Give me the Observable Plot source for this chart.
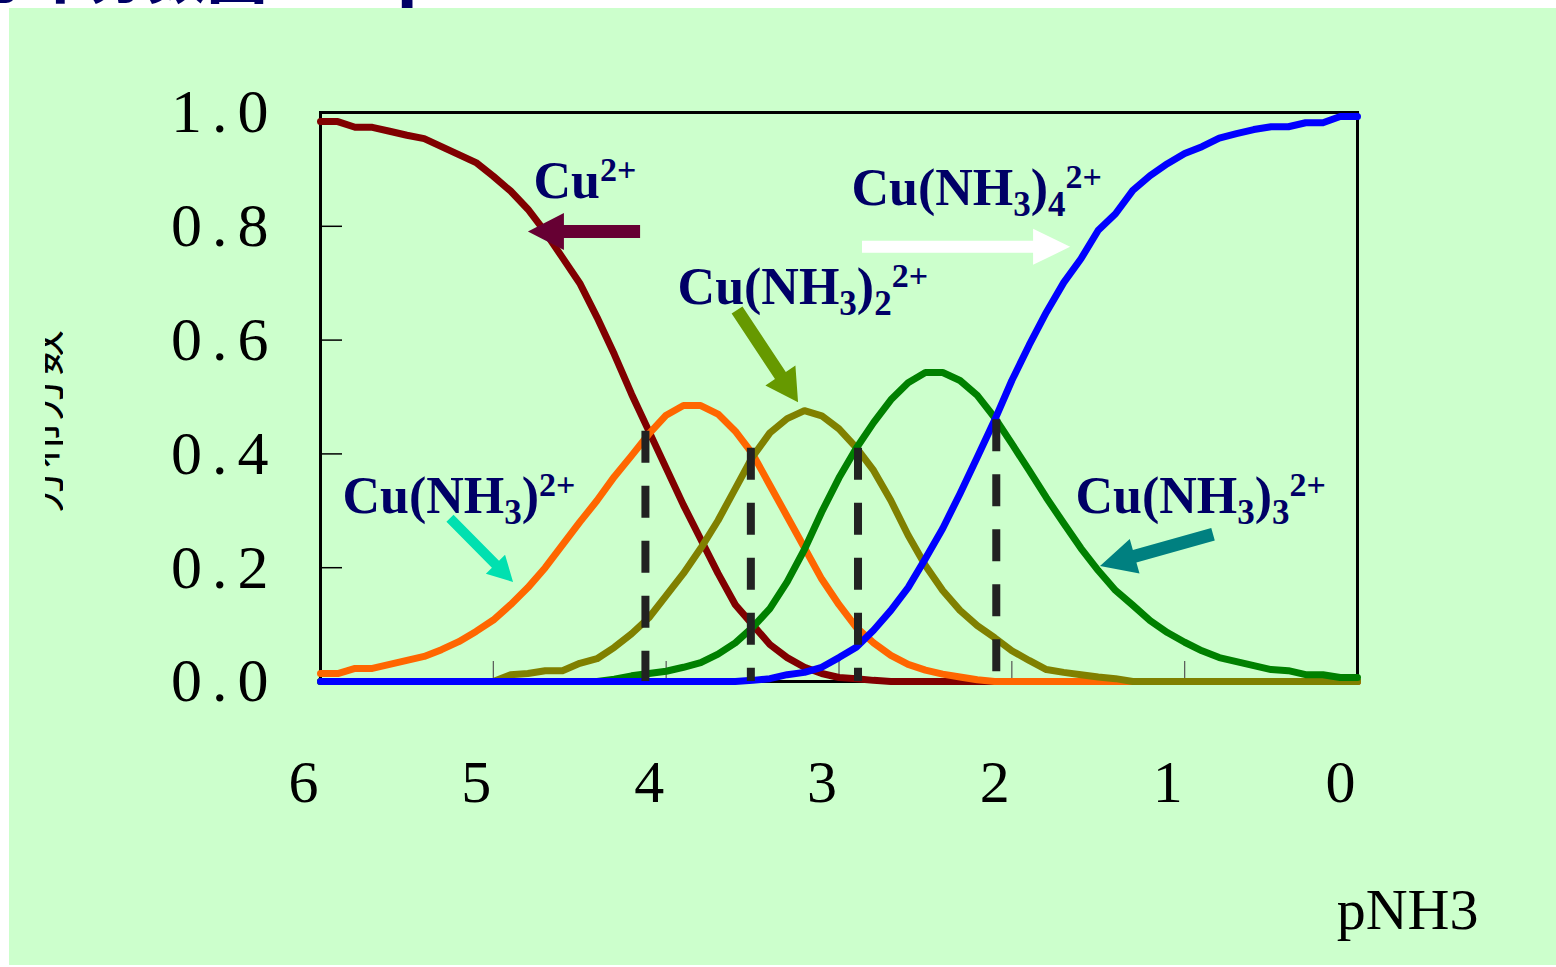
<!DOCTYPE html>
<html>
<head>
<meta charset="utf-8">
<script src="https://cdn.jsdelivr.net/npm/d3@7"></script>
<script src="https://cdn.jsdelivr.net/npm/@observablehq/plot@0.6"></script>
<style>
  html, body { margin: 0; padding: 0; background: #ffffff; }
  #page { position: relative; width: 1556px; height: 967px; overflow: hidden; background: #ffffff; }
  #title { position: absolute; left: -33px; top: -58px; white-space: pre; color: #000066;
           font: 900 60px "Noto Sans CJK SC", sans-serif; line-height: 60px; }
  #panel { position: absolute; left: 9px; top: 8px; width: 1547px; height: 957px; background: #CCFFCC; }
  #panel svg { display: block; }
  #ylabel { position: absolute; left: 45px; top: 320px; width: 18px; height: 210px; overflow: hidden; }
</style>
</head>
<body>
<div id="page">
  <div id="title">分布分数图——  pNH3</div>
  <div id="panel"></div>
  <div id="ylabel"></div>
</div>
<script>
// pNH3 grid (x) and the distribution fraction of each copper–ammine species
const pNH3 = [6.0, 5.9, 5.8, 5.7, 5.6, 5.5, 5.4, 5.3, 5.2, 5.1,
              5.0, 4.9, 4.8, 4.7, 4.6, 4.5, 4.4, 4.3, 4.2, 4.1,
              4.0, 3.9, 3.8, 3.7, 3.6, 3.5, 3.4, 3.3, 3.2, 3.1,
              3.0, 2.9, 2.8, 2.7, 2.6, 2.5, 2.4, 2.3, 2.2, 2.1,
              2.0, 1.9, 1.8, 1.7, 1.6, 1.5, 1.4, 1.3, 1.2, 1.1,
              1.0, 0.9, 0.8, 0.7, 0.6, 0.5, 0.4, 0.3, 0.2, 0.1, 0.0];

const fracCu = [0.984, 0.984, 0.974, 0.974, 0.967, 0.960, 0.954, 0.940, 0.926, 0.912,
                0.888, 0.862, 0.830, 0.790, 0.745, 0.700, 0.640, 0.575, 0.505, 0.440,
                0.375, 0.310, 0.250, 0.190, 0.135, 0.100, 0.065, 0.042, 0.025, 0.014,
                0.007, 0.005, 0.002, 0, 0, 0, 0, 0, 0, 0,
                0, 0, 0, 0, 0, 0, 0, 0, 0, 0,
                0, 0, 0, 0, 0, 0, 0, 0, 0, 0, 0];

const fracCuN1 = [0.014, 0.014, 0.023, 0.023, 0.030, 0.037, 0.044, 0.056, 0.070, 0.088,
                  0.108, 0.135, 0.165, 0.200, 0.240, 0.280, 0.318, 0.360, 0.397, 0.435,
                  0.468, 0.485, 0.485, 0.470, 0.440, 0.400, 0.345, 0.290, 0.235, 0.180,
                  0.135, 0.095, 0.068, 0.046, 0.030, 0.020, 0.013, 0.008, 0.003, 0,
                  0, 0, 0, 0, 0, 0, 0, 0, 0, 0,
                  0, 0, 0, 0, 0, 0, 0, 0, 0, 0, 0];

const fracCuN2 = [0, 0, 0, 0, 0, 0, 0, 0, 0, 0,
                  0, 0.012, 0.014, 0.019, 0.019, 0.032, 0.040, 0.060, 0.084, 0.112,
                  0.151, 0.190, 0.234, 0.283, 0.339, 0.395, 0.437, 0.462, 0.476, 0.467,
                  0.444, 0.411, 0.371, 0.318, 0.257, 0.204, 0.160, 0.125, 0.098, 0.077,
                  0.054, 0.037, 0.021, 0.016, 0.012, 0.008, 0.005, 0, 0, 0,
                  0, 0, 0, 0, 0, 0, 0, 0, 0, 0, 0];

const fracCuN3 = [0, 0, 0, 0, 0, 0, 0, 0, 0, 0,
                  0, 0, 0, 0, 0, 0, 0, 0.004, 0.010, 0.014,
                  0.018, 0.025, 0.033, 0.048, 0.068, 0.095, 0.128, 0.175, 0.232, 0.298,
                  0.358, 0.410, 0.455, 0.495, 0.525, 0.543, 0.543, 0.529, 0.503, 0.464,
                  0.418, 0.371, 0.323, 0.278, 0.234, 0.195, 0.160, 0.134, 0.107, 0.086,
                  0.069, 0.054, 0.042, 0.035, 0.028, 0.021, 0.019, 0.012, 0.012, 0.007, 0.007];

const fracCuN4 = [0, 0, 0, 0, 0, 0, 0, 0, 0, 0,
                  0, 0, 0, 0, 0, 0, 0, 0, 0, 0,
                  0, 0, 0, 0, 0, 0.002, 0.005, 0.012, 0.016, 0.025,
                  0.042, 0.060, 0.090, 0.125, 0.165, 0.216, 0.269, 0.330, 0.394, 0.459,
                  0.529, 0.591, 0.649, 0.701, 0.743, 0.793, 0.822, 0.863, 0.889, 0.910,
                  0.928, 0.940, 0.955, 0.963, 0.970, 0.975, 0.975, 0.982, 0.982, 0.993, 0.993];

// axis ticks
const xTickValues = [6, 5, 4, 3, 2, 1, 0];
const xMinorTicks = [5, 4, 3, 2, 1];
const yTickValues = [0, 0.2, 0.4, 0.6, 0.8, 1.0];
const yMinorTicks = [0.2, 0.4, 0.6, 0.8];

// vertical markers where neighbouring species are equal
const markerP = [4.12, 3.51, 2.89, 2.09];
const markerFrac = [0.44, 0.41, 0.41, 0.46];

// species labels (markup: _{..} subscript, ^{..} superscript) and their anchors
const labelText = ["Cu^{2+}", "Cu(NH_{3})^{2+}", "Cu(NH_{3})_{2}^{2+}", "Cu(NH_{3})_{3}^{2+}", "Cu(NH_{3})_{4}^{2+}"];
const labelP    = [4.768, 5.873, 3.934, 1.632, 2.928];
const labelFrac = [0.849, 0.297, 0.664, 0.297, 0.837];

// pointer arrows from each label towards its curve
const arrowP1    = [4.148, 5.248, 3.587, 0.833, 2.864];
const arrowFrac1 = [0.790, 0.286, 0.652, 0.258, 0.763];
const arrowP2    = [4.797, 4.883, 3.234, 1.487, 1.660];
const arrowFrac2 = [0.790, 0.174, 0.490, 0.202, 0.763];

// ---- styling ----
const seriesStyle = [
  {values: fracCu,   color: "#800000"},
  {values: fracCuN1, color: "#FF6600"},
  {values: fracCuN2, color: "#808000"},
  {values: fracCuN3, color: "#008000"},
  {values: fracCuN4, color: "#0000FF"}
];
const arrowStyle = [
  {color: "#660033", head: 36, headW: 37, shaft: 13},
  {color: "#00E0B0", head: 25, headW: 27, shaft: 10},
  {color: "#669900", head: 32, headW: 36, shaft: 13},
  {color: "#008080", head: 36, headW: 36, shaft: 13},
  {color: "#FFFFFF", head: 37, headW: 36, shaft: 12}
];

const rows = seriesStyle.flatMap((s, k) => pNH3.map((p, i) => ({p, f: s.values[i], k})));
const markers = markerP.map((p, i) => ({p, top: markerFrac[i]}));
const labels = labelText.map((t, i) => ({t, p: labelP[i], f: labelFrac[i]}));
const arrows = arrowP1.map((p, i) => ({p1: p, f1: arrowFrac1[i], p2: arrowP2[i], f2: arrowFrac2[i], ...arrowStyle[i]}));

// filled block arrows drawn through the plot's scales
function blockArrows(index, scales) {
  const g = d3.create("svg:g").attr("aria-label", "arrows");
  for (const a of arrows) {
    const x1 = scales.x(a.p1), y1 = scales.y(a.f1), x2 = scales.x(a.p2), y2 = scales.y(a.f2);
    const len = Math.hypot(x2 - x1, y2 - y1);
    const ux = (x2 - x1) / len, uy = (y2 - y1) / len, nx = -uy, ny = ux;
    const bx = x2 - ux * a.head, by = y2 - uy * a.head;
    const s = a.shaft / 2, h = a.headW / 2;
    const pts = [
      [x1 + nx * s, y1 + ny * s], [bx + nx * s, by + ny * s], [bx + nx * h, by + ny * h],
      [x2, y2],
      [bx - nx * h, by - ny * h], [bx - nx * s, by - ny * s], [x1 - nx * s, y1 - ny * s]
    ];
    g.append("path").attr("d", "M" + pts.map(q => q.join(",")).join("L") + "Z").attr("fill", a.color);
  }
  return g.node();
}

const chart = Plot.plot({
  width: 1547,
  height: 957,
  marginLeft: 311,
  marginRight: 199,
  marginTop: 104,
  marginBottom: 284,
  style: {background: "transparent", fontFamily: "'Liberation Serif', 'Times New Roman', serif", color: "#000", overflow: "visible"},
  x: {domain: [6, 0]},
  y: {domain: [0, 1]},
  marks: [
    Plot.axisX({ticks: xTickValues, tickSize: 0, tickPadding: 78, dx: -17, fontSize: 60, tickFormat: d => String(d), label: null}),
    Plot.axisY({ticks: yTickValues, tickSize: 0, tickPadding: 42, fontSize: 62, tickFormat: d => d.toFixed(1), label: null}),
    Plot.tickX(xMinorTicks, {x: d => d, insetTop: 549, stroke: "#555", strokeWidth: 1.2}),
    Plot.tickY(yMinorTicks, {y: d => d, insetRight: 1015, stroke: "#000", strokeWidth: 1.5}),
    Plot.frame({stroke: "#000", strokeWidth: 3}),
    ...seriesStyle.map((s, k) =>
      Plot.line(rows.filter(r => r.k === k), {x: "p", y: "f", stroke: s.color, strokeWidth: 7, strokeLinejoin: "round", strokeLinecap: "round"})
    ),
    // dashes run downward from each crossing point
    Plot.ruleX(markers, {x: "p", y1: "top", y2: 0, stroke: "#222", strokeWidth: 8, strokeDasharray: "32,23"}),
    blockArrows,
    Plot.text(labels, {x: "p", y: "f", text: "t", textAnchor: "start", fontSize: 52, fontWeight: "bold", fill: "#000066"}),
    Plot.text(["pNH3"], {text: d => d, frameAnchor: "bottom-right", textAnchor: "end", dx: 121, dy: 247, fontSize: 58})
  ]
});

// wider spacing in the y tick labels
d3.select(chart).selectAll('g[aria-label="y-axis tick label"] text').attr("letter-spacing", 10);

// turn the _{..} / ^{..} markup of the species labels into sub/superscript tspans
const SUB_SHIFT = 11, SUP_SHIFT = -17, SUB_SIZE = 35, SUP_SIZE = 34;
d3.select(chart).selectAll("text").filter(function () { return /[_^]\{/.test(this.textContent); }).each(function () {
  const src = this.textContent;
  const el = d3.select(this);
  el.selectAll("*").remove();
  el.text(null).attr("y", null).attr("dy", null);
  const re = /([_^])\{([^}]*)\}|([^_^]+)/g;
  let m, shift = 0;
  while ((m = re.exec(src))) {
    let target = 0, size = null, str;
    if (m[3] !== undefined) { str = m[3]; }
    else if (m[1] === "_") { str = m[2]; target = SUB_SHIFT; size = SUB_SIZE; }
    else { str = m[2]; target = SUP_SHIFT; size = SUP_SIZE; }
    const t = el.append("tspan").attr("dy", target - shift).text(str);
    if (size) t.attr("font-size", size);
    shift = target;
  }
});

document.getElementById("panel").appendChild(chart);

// rotated y-axis title
const ylab = d3.select("#ylabel").append("svg").attr("width", 18).attr("height", 210);
ylab.append("text")
  .attr("transform", "translate(14,102) rotate(-90)")
  .attr("text-anchor", "middle")
  .attr("font-family", "'Noto Sans CJK SC', sans-serif")
  .attr("font-size", 46)
  .attr("fill", "#000")
  .text("分布分数");
</script>
</body>
</html>
